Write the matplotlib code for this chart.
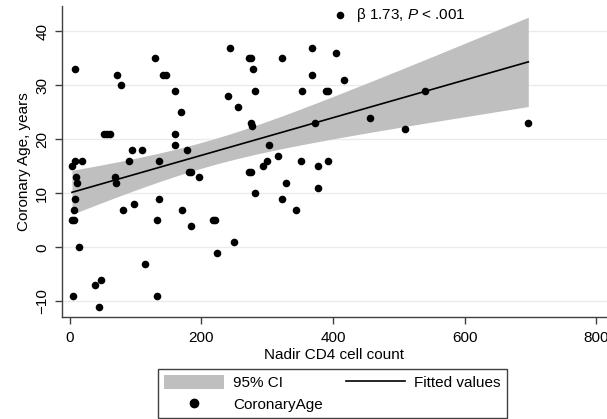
import numpy as np
import matplotlib
matplotlib.use("Agg")
import matplotlib.pyplot as plt
from matplotlib.patches import Patch
from matplotlib.lines import Line2D

plt.rcParams['font.family'] = ['Liberation Sans', 'DejaVu Sans']
plt.rcParams['mathtext.fontset'] = 'custom'
plt.rcParams['mathtext.rm'] = 'Liberation Sans'
plt.rcParams['mathtext.it'] = 'Liberation Sans:italic'

# nadir CD4 count vs coronary age
cd4 = [3, 8, 19, 9, 10, 8, 8, 6, 3, 6, 14, 5, 38, 47, 44,
       52, 57, 61, 69, 70, 72, 77, 80, 90, 94, 97, 110, 114,
       129, 135, 136, 133, 133, 142, 146, 160, 169, 160, 160, 178,
       170, 181, 184, 184, 196, 218, 221, 224, 249, 240, 243, 256,
       273, 276, 273, 275, 276, 277, 279, 282, 282, 293, 300, 303,
       316, 322, 323, 328, 343, 351, 353, 368, 368, 372, 377, 377,
       389, 392, 393, 404, 416, 411, 456, 509, 540, 697]
coronary_age = [15, 16, 16, 13, 12, 33, 9, 7, 5, 5, 0, -9, -7, -6, -11,
                21, 21, 21, 13, 12, 32, 30, 7, 16, 18, 8, 18, -3,
                35, 16, 9, 5, -9, 32, 32, 29, 25, 21, 19, 18,
                7, 14, 14, 4, 13, 5, 5, -1, 1, 28, 37, 26,
                35, 35, 14, 14, 23, 22.5, 33, 29, 10, 15, 16, 19,
                17, 35, 9, 12, 7, 16, 29, 37, 32, 23, 15, 11,
                29, 29, 16, 36, 31, 43, 24, 22, 29, 23]

note_x, note_y = 411, 43
note_text = r"β 1.73, $\it{P}$ < .001"

x = np.array(cd4, dtype=float)
y = np.array(coronary_age, dtype=float)

# linear fit with 95% CI of the mean prediction (like Stata lfitci)
n = len(x)
slope, icept = np.polyfit(x, y, 1)
resid = y - (icept + slope * x)
s = np.sqrt(np.sum(resid ** 2) / (n - 2))
xbar = x.mean()
sxx = np.sum((x - xbar) ** 2)
xs = np.unique(x)
fit = icept + slope * xs
se = s * np.sqrt(1.0 / n + (xs - xbar) ** 2 / sxx)
t_crit = 1.99
lo = fit - t_crit * se
hi = fit + t_crit * se

W, H = 607, 419
fig = plt.figure(figsize=(W / 100, H / 100), dpi=100)
ax = fig.add_axes([61.7 / W, 1 - 317 / H, 1 - 61.7 / W, (317 - 6) / H])

band_color = '#bfbfbf'
ax.fill_between(xs, lo, hi, color=band_color, linewidth=0, zorder=2)
ax.plot(xs, fit, color='black', linewidth=1.2, zorder=3)
ax.scatter(x, y, s=30, color='black', zorder=4, linewidths=0)

ax.annotate(note_text, xy=(note_x, note_y), xytext=(11, 0),
            textcoords='offset points', va='center', ha='left', fontsize=11)

ax.set_xlim(-12.6, 816.7)
ax.set_ylim(-12.9, 44.7)
ax.set_xticks([0, 200, 400, 600, 800])
ax.set_yticks([-10, 0, 10, 20, 30, 40])
ax.yaxis.grid(True, color='#ebebeb', linewidth=1)
ax.set_axisbelow(True)

for side in ['top', 'right']:
    ax.spines[side].set_visible(False)
for side in ['left', 'bottom']:
    ax.spines[side].set_color('#404040')
    ax.spines[side].set_linewidth(1)

ax.tick_params(axis='both', length=5, width=1, color='#404040', labelsize=11)
ax.tick_params(axis='x', pad=5)
ax.tick_params(axis='y', pad=4)
for lab in ax.get_yticklabels():
    lab.set_rotation(90)
    lab.set_va('center')

ax.set_xlabel("Nadir CD4 cell count", fontsize=11, labelpad=2)
ax.set_ylabel("Coronary Age, years", fontsize=11, labelpad=3)

handles = [Patch(facecolor=band_color, edgecolor='none'),
           Line2D([], [], marker='o', color='black', linestyle='none', markersize=6),
           Line2D([], [], color='black', linewidth=1.2)]
labels = ["95% CI", "CoronaryAge", "Fitted values"]
leg = fig.legend(handles, labels, ncol=2, loc='upper center',
                 bbox_to_anchor=(332.5 / W, 1 - 369 / H),
                 fontsize=11, frameon=True, fancybox=False, framealpha=1,
                 edgecolor='#404040', handlelength=3.9, handleheight=1.05,
                 handletextpad=0.6, columnspacing=1.5, labelspacing=0.4,
                 borderpad=0.4, borderaxespad=0)
leg.get_frame().set_linewidth(1)

fig.savefig("out.png", dpi=100)
